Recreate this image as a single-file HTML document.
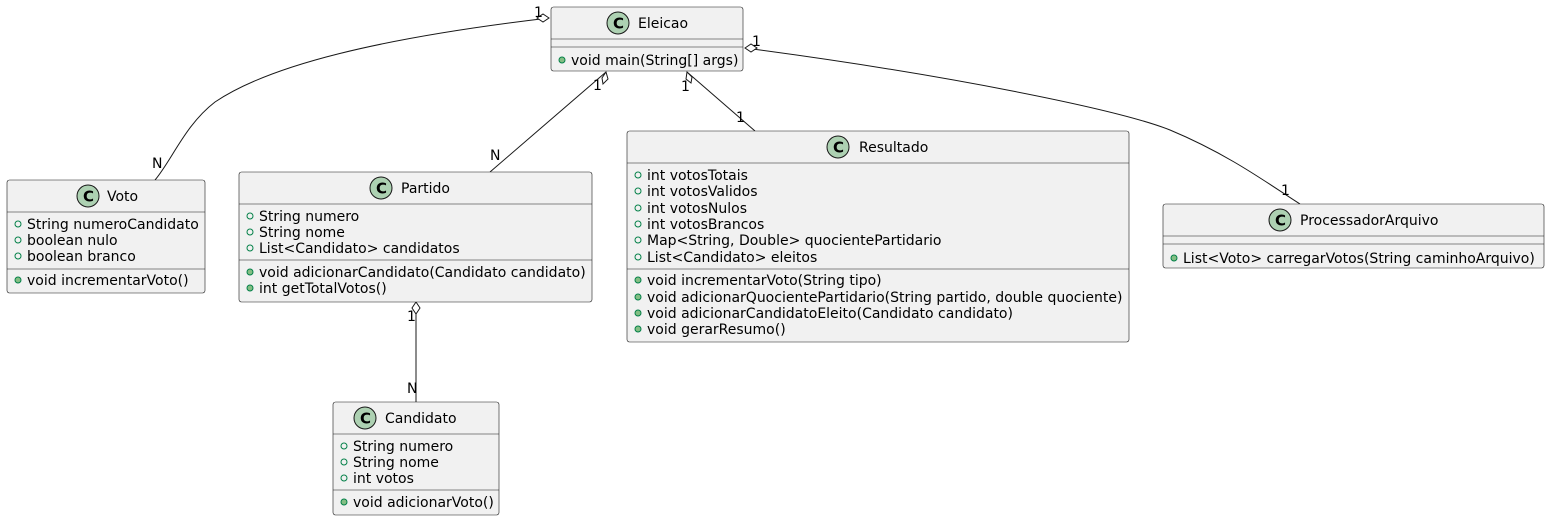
<!DOCTYPE html>
<html><head><meta charset="utf-8"><style>
html,body{margin:0;padding:0;background:#fff;}
svg text{font-family:"DejaVu Sans","Liberation Sans",sans-serif;font-size:14px;fill:#000;}
</style></head><body>
<svg width="1550" height="521" viewBox="0 0 1550 521" xmlns="http://www.w3.org/2000/svg">
<defs>
<g id="ci"><circle r="11" fill="#ADD1B2" stroke="#181818" stroke-width="1"/><text x="-5" y="5.5" style="font-weight:bold;font-size:15px">C</text></g>
<g id="fo"><circle r="3" fill="none" stroke="#038048" stroke-width="1"/></g>
<g id="fm"><circle r="3" fill="#84BE84" stroke="#038048" stroke-width="1"/></g>
</defs>
<g fill="none" stroke="#181818" stroke-width="1">
<path d="M549,18 C380,38 270,65 215,102 C185,125 172,160 155,180"/>
<path d="M606,72 L490,172"/>
<path d="M687,72 L755,131"/>
<path d="M745,48 C950,75 1120,110 1170,130 C1230,155 1270,185 1300,204"/>
<path d="M416,302 L416,402"/>
</g>
<g fill="#fff" stroke="#181818" stroke-width="1">
<polygon points="549,18 543,14 537,18 543,22"/>
<polygon points="606,72 602,78 603,84 608,79"/>
<polygon points="687,72 686,79 691,83 692,77"/>
<polygon points="745,48 751,44 757,48 751,52"/>
<polygon points="416,302 412,308 416,314 420,308"/>
</g>
<g>
<text x="534" y="17">1</text><text x="152" y="168">N</text>
<text x="593" y="90">1</text><text x="490" y="160">N</text>
<text x="681" y="91">1</text><text x="736" y="122">1</text>
<text x="752" y="46">1</text><text x="1281" y="195">1</text>
<text x="407" y="321">1</text><text x="407" y="393">N</text>
</g>
<g fill="#F1F1F1" stroke="#181818" stroke-width="0.6">
<rect x="551" y="7" width="192" height="64" rx="2.5"/>
<rect x="7" y="180" width="198" height="113" rx="2.5"/>
<rect x="239" y="172" width="353" height="130" rx="2.5"/>
<rect x="627" y="131" width="502" height="211" rx="2.5"/>
<rect x="1163" y="204" width="381" height="64" rx="2.5"/>
<rect x="333" y="402" width="166" height="113" rx="2.5"/>
</g>
<g stroke="#181818" stroke-width="0.6">
<line x1="551" y1="39" x2="743" y2="39"/><line x1="551" y1="47" x2="743" y2="47"/>
<line x1="7" y1="212" x2="205" y2="212"/><line x1="7" y1="269" x2="205" y2="269"/>
<line x1="239" y1="204" x2="592" y2="204"/><line x1="239" y1="260" x2="592" y2="260"/>
<line x1="627" y1="163" x2="1129" y2="163"/><line x1="627" y1="269" x2="1129" y2="269"/>
<line x1="1163" y1="236" x2="1544" y2="236"/><line x1="1163" y1="244" x2="1544" y2="244"/>
<line x1="333" y1="434" x2="499" y2="434"/><line x1="333" y1="490" x2="499" y2="490"/>
</g>
<use href="#ci" x="618" y="23"/><text x="638" y="28">Eleicao</text>
<use href="#fm" x="562" y="60"/><text x="571" y="65">void main(String[] args)</text>
<use href="#ci" x="88" y="196"/><text x="107" y="201">Voto</text>
<use href="#fo" x="18" y="224"/><text x="27" y="229">String numeroCandidato</text>
<use href="#fo" x="18" y="240"/><text x="27" y="245">boolean nulo</text>
<use href="#fo" x="18" y="256"/><text x="27" y="261">boolean branco</text>
<use href="#fm" x="18" y="280"/><text x="27" y="285">void incrementarVoto()</text>
<use href="#ci" x="381" y="188"/><text x="401" y="193">Partido</text>
<use href="#fo" x="250" y="216"/><text x="259" y="221">String numero</text>
<use href="#fo" x="250" y="232"/><text x="259" y="237">String nome</text>
<use href="#fo" x="250" y="248"/><text x="259" y="253">List&lt;Candidato&gt; candidatos</text>
<use href="#fm" x="250" y="272"/><text x="259" y="277">void adicionarCandidato(Candidato candidato)</text>
<use href="#fm" x="250" y="288"/><text x="259" y="293">int getTotalVotos()</text>
<use href="#ci" x="838" y="147"/><text x="859" y="152">Resultado</text>
<use href="#fo" x="638" y="175"/><text x="647" y="180">int votosTotais</text>
<use href="#fo" x="638" y="191"/><text x="647" y="196">int votosValidos</text>
<use href="#fo" x="638" y="208"/><text x="647" y="213">int votosNulos</text>
<use href="#fo" x="638" y="224"/><text x="647" y="229">int votosBrancos</text>
<use href="#fo" x="638" y="240"/><text x="647" y="245">Map&lt;String, Double&gt; quocientePartidario</text>
<use href="#fo" x="638" y="257"/><text x="647" y="262">List&lt;Candidato&gt; eleitos</text>
<use href="#fm" x="638" y="280"/><text x="647" y="285">void incrementarVoto(String tipo)</text>
<use href="#fm" x="638" y="297"/><text x="647" y="302">void adicionarQuocientePartidario(String partido, double quociente)</text>
<use href="#fm" x="638" y="313"/><text x="647" y="318">void adicionarCandidatoEleito(Candidato candidato)</text>
<use href="#fm" x="638" y="329"/><text x="647" y="334">void gerarResumo()</text>
<use href="#ci" x="1280" y="220"/><text x="1300" y="225">ProcessadorArquivo</text>
<use href="#fm" x="1174" y="258"/><text x="1183" y="263">List&lt;Voto&gt; carregarVotos(String caminhoArquivo)</text>
<use href="#ci" x="365" y="418"/><text x="385" y="423">Candidato</text>
<use href="#fo" x="344" y="446"/><text x="353" y="451">String numero</text>
<use href="#fo" x="344" y="462"/><text x="353" y="467">String nome</text>
<use href="#fo" x="344" y="478"/><text x="353" y="483">int votos</text>
<use href="#fm" x="344" y="502"/><text x="353" y="507">void adicionarVoto()</text>
</svg>
</body></html>
